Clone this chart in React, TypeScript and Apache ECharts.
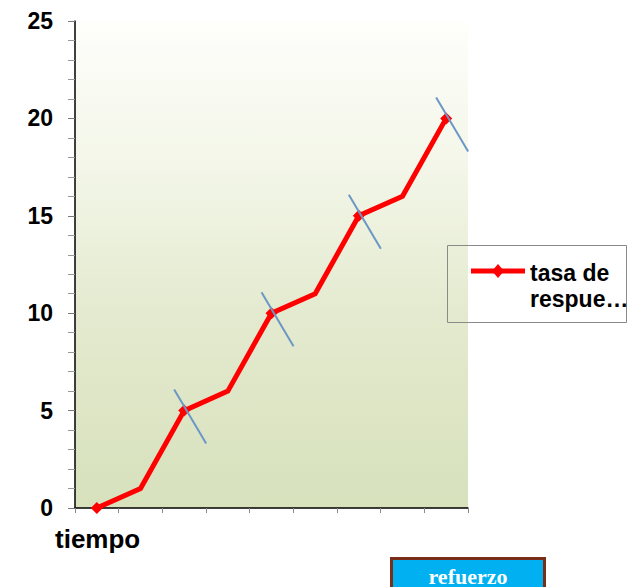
import React, { useEffect, useRef } from "react";
import * as echarts from "echarts";

const categories = ["t1", "t2", "t3", "t4", "t5", "t6", "t7", "t8", "t9"];
const respuesta = [0, 1, 5, 6, 10, 11, 15, 16, 20];
const refuerzoIdx = [2, 4, 6, 8];
const yTicks = { min: 0, max: 25, interval: 5 };
const seriesName = "tasa de respuesta";
const legendLines = ["tasa de", "respue…"];
const xTitle = "tiempo";
const buttonLabel = "refuerzo";

export default function App() {
  const ref = useRef<HTMLDivElement>(null);
  useEffect(() => {
    if (!ref.current) return;
    const chart = echarts.init(ref.current, null, { renderer: "svg" });
    const font = "'Liberation Sans', Arial, sans-serif";
    chart.setOption({
      animation: false,
      backgroundColor: "#ffffff",
      grid: {
        left: 75,
        top: 21,
        right: 165,
        bottom: 79,
        show: true,
        borderWidth: 0,
        backgroundColor: new echarts.graphic.LinearGradient(0, 0, 0, 1, [
          { offset: 0, color: "#fefefb" },
          { offset: 0.3, color: "#f3f6e8" },
          { offset: 0.6, color: "#e4eacf" },
          { offset: 1, color: "#d7e1bc" },
        ]),
      },
      xAxis: {
        type: "category",
        data: categories,
        boundaryGap: true,
        axisLine: { show: true, lineStyle: { color: "#000", width: 1.5 } },
        axisTick: { show: true, length: 5, lineStyle: { color: "#888" } },
        axisLabel: { show: false },
        splitLine: { show: false },
      },
      yAxis: {
        type: "value",
        min: yTicks.min,
        max: yTicks.max,
        interval: yTicks.interval,
        axisLine: { show: true, lineStyle: { color: "#000", width: 1.5 } },
        axisTick: { show: true, length: 7, lineStyle: { color: "#777" } },
        minorTick: { show: true, splitNumber: 5, length: 7, lineStyle: { color: "#999" } },
        splitLine: { show: false },
        axisLabel: {
          margin: 22,
          color: "#000",
          fontWeight: "bold",
          fontSize: 23,
          fontFamily: font,
        },
      },
      series: [
        {
          name: seriesName,
          type: "line",
          data: respuesta,
          lineStyle: { color: "#ff0000", width: 5, join: "miter" },
          itemStyle: { color: "#ff0000" },
          symbol: "diamond",
          symbolSize: (_v: any, p: any) => (p.dataIndex % 2 === 0 ? 12 : 0),
          showSymbol: true,
          z: 3,
        },
        {
          type: "custom",
          data: refuerzoIdx.map((i) => [i, respuesta[i]]),
          z: 4,
          renderItem: (_params: any, api: any) => {
            const c = api.coord([api.value(0), api.value(1)]);
            return {
              type: "line",
              shape: { x1: c[0] - 10, y1: c[1] - 21, x2: c[0] + 22, y2: c[1] + 33 },
              style: { stroke: "#6b97c6", lineWidth: 2 },
            };
          },
        },
      ],
      graphic: [
        {
          type: "rect",
          shape: { x: 447.5, y: 245.5, width: 179, height: 77 },
          style: { fill: "none", stroke: "#8a8a8a", lineWidth: 1 },
        },
        {
          type: "line",
          shape: { x1: 471, y1: 271, x2: 525, y2: 271 },
          style: { stroke: "#ff0000", lineWidth: 5 },
        },
        {
          type: "polygon",
          shape: { points: [[498, 264], [504, 271], [498, 278], [492, 271]] },
          style: { fill: "#ff0000" },
        },
        {
          type: "text",
          x: 530,
          y: 260,
          style: {
            text: legendLines.join("\n"),
            font: `bold 23px ${font}`,
            fill: "#000",
            lineHeight: 26,
          },
        },
        {
          type: "text",
          x: 55,
          y: 526,
          style: { text: xTitle, font: `bold 26px ${font}`, fill: "#000" },
        },
        {
          type: "rect",
          shape: { x: 391.5, y: 558.5, width: 153, height: 40 },
          style: { fill: "#00b0f0", stroke: "#7a2e18", lineWidth: 3 },
        },
        {
          type: "text",
          x: 468,
          y: 576,
          style: {
            text: buttonLabel,
            font: "bold 22px 'Liberation Serif', 'Times New Roman', serif",
            fill: "#ffffff",
            align: "center",
            verticalAlign: "middle",
          },
        },
      ],
    });
    return () => chart.dispose();
  }, []);
  return <div ref={ref} style={{ width: 633, height: 587, position: "absolute", left: 0, top: 0 }} />;
}
